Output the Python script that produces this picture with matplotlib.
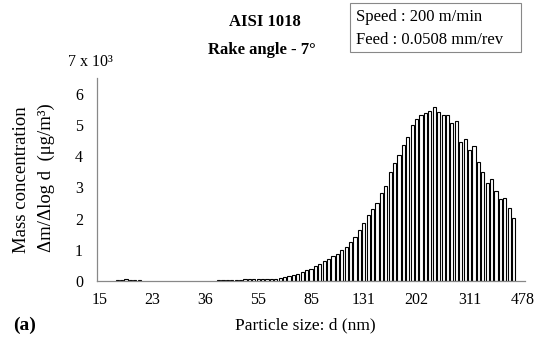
import matplotlib
matplotlib.use("Agg")
import matplotlib.pyplot as plt
from matplotlib.patches import Rectangle
import numpy as np

# particle-size channel labels (every 12th channel, 64 ch/decade)
SIZE_LABELS = ["15", "23", "36", "55", "85", "131", "202", "311", "478"]
N_CHANNELS = 97

# mass concentration dm/dlog d, x 10^3 ug/m3, per channel index
SMALL_IDX = [4, 5, 6, 7, 8, 9]
SMALL_VAL = [0.03, 0.04, 0.07, 0.04, 0.03, 0.03]

MAIN_START = 27
MAIN_VAL = [
    0.03, 0.03, 0.03, 0.03, 0.03, 0.03,              # 27-32
    0.05, 0.05, 0.05, 0.05, 0.05,                    # 33-37
    0.08, 0.08, 0.08, 0.10,                          # 38-41
    0.14, 0.17, 0.20, 0.24, 0.28, 0.34,              # 42-47
    0.40, 0.47, 0.56, 0.65, 0.72, 0.80, 0.88, 0.98,  # 48-55
    1.10, 1.25, 1.42, 1.62, 1.85, 2.12, 2.30, 2.50,  # 56-63
    2.82, 3.05, 3.50, 3.78, 4.05, 4.35, 4.60, 5.00,  # 64-71
    5.18, 5.30, 5.38, 5.45, 5.57,                    # 72-76
    5.40, 5.33, 5.33, 5.05, 5.12, 4.45, 4.55, 4.20,  # 77-84
    4.32, 3.82, 3.50, 3.15, 3.28, 2.88, 2.62, 2.65,  # 85-92
    2.35, 2.02,                                      # 93-94
]

plt.rcParams.update({
    "font.family": ["Liberation Serif", "DejaVu Serif"],
    "font.size": 11,
})

W, H = 541, 346
fig = plt.figure(figsize=(W / 100, H / 100), dpi=100)
ax = fig.add_axes([97 / W, 1 - 281 / H, (525 - 97) / W, (281 - 78) / H])

idx = SMALL_IDX + list(range(MAIN_START, MAIN_START + len(MAIN_VAL)))
vals = SMALL_VAL + MAIN_VAL
ax.bar(idx, vals, width=0.72, color="white", edgecolor="black", linewidth=0.8)

ax.set_xlim(-0.6, N_CHANNELS - 0.4)
ax.set_ylim(0, 6.5)
ax.set_xticks(np.arange(0, N_CHANNELS, 12))
ax.set_xticklabels(SIZE_LABELS, fontsize=11.5)
ax.set_yticks(range(7))
ax.set_yticklabels([str(v) for v in range(7)], fontsize=11.5)
ax.tick_params(axis="x", length=0, pad=8)
ax.tick_params(axis="y", length=0, pad=10)
for s in ("top", "right"):
    ax.spines[s].set_visible(False)
for s in ("left", "bottom"):
    ax.spines[s].set_color("#888888")
    ax.spines[s].set_linewidth(0.9)

fig.text(68 / W, 1 - 62 / H, "7 x 10³", ha="left", va="center", fontsize=11.5)

fig.text(22 / W, 1 - 180 / H, "Mass concentration", rotation=90,
         ha="center", va="center", fontsize=13.5)
fig.text(46 / W, 1 - 178 / H, "Δm/Δlog d  (μg/m³)", rotation=90,
         ha="center", va="center", fontsize=13.5)

fig.text(265 / W, 1 - 22 / H, "AISI 1018", ha="center", va="center",
         fontsize=12, fontweight="bold")
fig.text(262 / W, 1 - 50 / H, "Rake angle - 7°", ha="center", va="center",
         fontsize=12, fontweight="bold")

# condition box
fig.patches.append(Rectangle((350 / W, 1 - 52 / H), 171 / W, 49 / H,
                             transform=fig.transFigure, fc="white",
                             ec="#888888", lw=0.8))
fig.text(356 / W, 1 - 17 / H, "Speed : 200 m/min", ha="left", va="center",
         fontsize=12)
fig.text(356 / W, 1 - 40 / H, "Feed : 0.0508 mm/rev", ha="left", va="center",
         fontsize=12)

fig.text(25 / W, 1 - 325 / H, "(a)", ha="center", va="center",
         fontsize=14, fontweight="bold")
fig.text(305 / W, 1 - 325 / H, "Particle size: d (nm)", ha="center",
         va="center", fontsize=12.5)

fig.savefig("out.png", dpi=100)
